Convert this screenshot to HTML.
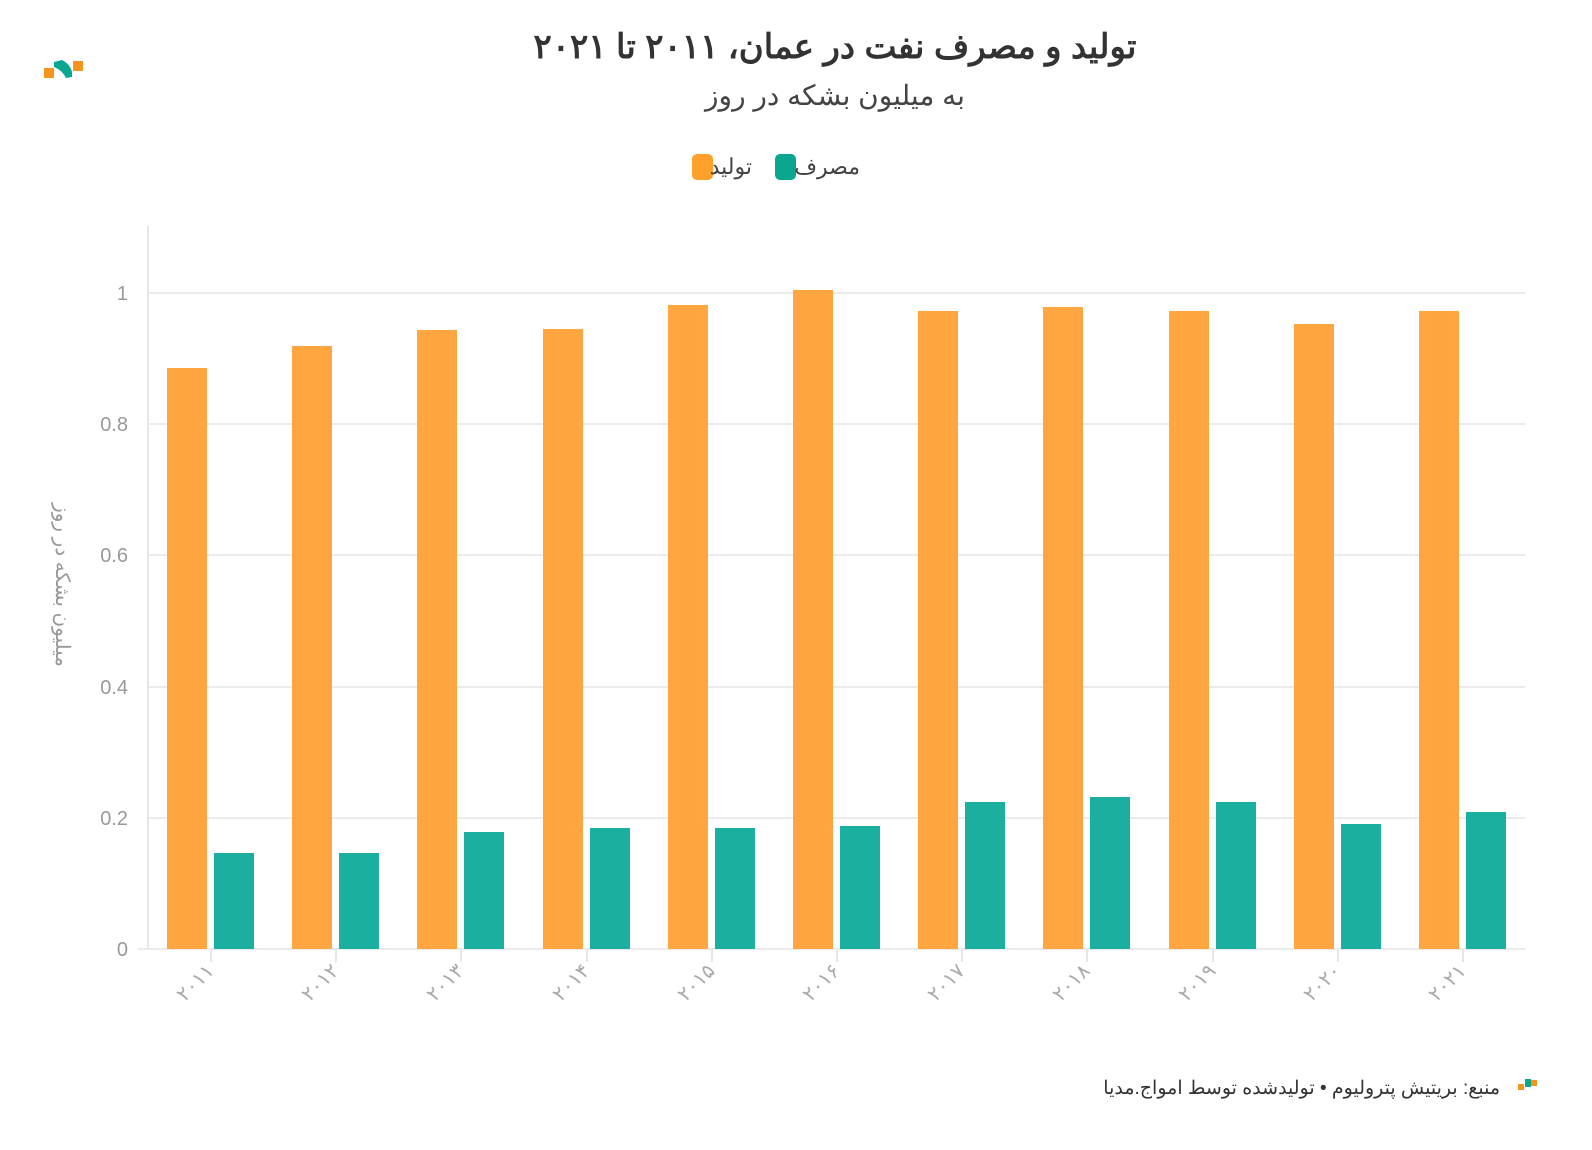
<!DOCTYPE html>
<html><head><meta charset="utf-8"><style>
html,body{margin:0;padding:0;background:#fff;overflow:hidden;width:1592px;height:1150px;}
svg{display:block;}
svg text{font-family:"Liberation Sans","Noto Sans CJK SC",sans-serif;}
</style></head><body>
<svg width="1592" height="1150" viewBox="0 0 1592 1150" xmlns="http://www.w3.org/2000/svg">
<rect width="1592" height="1150" fill="#fff"/>
<rect x="44" y="68" width="10" height="10" fill="#f7941d"/>
<path d="M54 62 L62 60 Q70 64 72 72 L72 77 L66 78 Q62 70 54 67 Z" fill="#0ba690"/>
<rect x="73" y="61" width="10" height="10" fill="#f7941d"/>
<text x="835" y="58" text-anchor="middle" font-size="34" font-weight="bold" fill="#333" direction="rtl">تولید و مصرف نفت در عمان، ۲۰۱۱ تا ۲۰۲۱</text>
<text x="835" y="105" text-anchor="middle" font-size="28" fill="#444" direction="rtl">به میلیون بشکه در روز</text>
<rect x="692" y="154" width="21" height="26" rx="5" fill="#ffa02a"/>
<text x="752" y="174" text-anchor="end" font-size="22" fill="#444">تولید</text>
<rect x="775" y="154" width="21" height="26" rx="5" fill="#0ba690"/>
<text x="860" y="174" text-anchor="end" font-size="22" fill="#444">مصرف</text>
<line x1="148" y1="226" x2="148" y2="950" stroke="#e6e6e6" stroke-width="2"/>
<g stroke="#ebebeb" stroke-width="2">
<line x1="148" y1="293" x2="1525" y2="293"/>
<line x1="148" y1="424" x2="1525" y2="424"/>
<line x1="148" y1="555" x2="1525" y2="555"/>
<line x1="148" y1="687" x2="1525" y2="687"/>
<line x1="148" y1="818" x2="1525" y2="818"/>
<line x1="138" y1="949" x2="1525" y2="949"/>
</g>
<g font-size="20" fill="#999" text-anchor="end">
<text x="128" y="300">1</text>
<text x="128" y="431">0.8</text>
<text x="128" y="562">0.6</text>
<text x="128" y="694">0.4</text>
<text x="128" y="825">0.2</text>
<text x="128" y="956">0</text>
</g>
<text transform="translate(56,585) rotate(90)" text-anchor="middle" font-size="20" fill="#999">میلیون بشکه در روز</text>
<g fill="#ffa640">
<rect x="167" y="368" width="40" height="581"/>
<rect x="292" y="346" width="40" height="603"/>
<rect x="417" y="330" width="40" height="619"/>
<rect x="543" y="329" width="40" height="620"/>
<rect x="668" y="305" width="40" height="644"/>
<rect x="793" y="290" width="40" height="659"/>
<rect x="918" y="311" width="40" height="638"/>
<rect x="1043" y="307" width="40" height="642"/>
<rect x="1169" y="311" width="40" height="638"/>
<rect x="1294" y="324" width="40" height="625"/>
<rect x="1419" y="311" width="40" height="638"/>
</g>
<g fill="#1aaf9e">
<rect x="214" y="853" width="40" height="96"/>
<rect x="339" y="853" width="40" height="96"/>
<rect x="464" y="832" width="40" height="117"/>
<rect x="590" y="828" width="40" height="121"/>
<rect x="715" y="828" width="40" height="121"/>
<rect x="840" y="826" width="40" height="123"/>
<rect x="965" y="802" width="40" height="147"/>
<rect x="1090" y="797" width="40" height="152"/>
<rect x="1216" y="802" width="40" height="147"/>
<rect x="1341" y="824" width="40" height="125"/>
<rect x="1466" y="812" width="40" height="137"/>
</g>
<g stroke="#e6e6e6" stroke-width="2">
<line x1="211" y1="950" x2="211" y2="962"/><line x1="336" y1="950" x2="336" y2="962"/>
<line x1="461" y1="950" x2="461" y2="962"/><line x1="587" y1="950" x2="587" y2="962"/>
<line x1="712" y1="950" x2="712" y2="962"/><line x1="837" y1="950" x2="837" y2="962"/>
<line x1="962" y1="950" x2="962" y2="962"/><line x1="1087" y1="950" x2="1087" y2="962"/>
<line x1="1213" y1="950" x2="1213" y2="962"/><line x1="1338" y1="950" x2="1338" y2="962"/>
<line x1="1463" y1="950" x2="1463" y2="962"/>
</g>
<g font-size="20" fill="#aaa" text-anchor="end">
<text transform="translate(215,972) rotate(-45)">۲۰۱۱</text>
<text transform="translate(340,972) rotate(-45)">۲۰۱۲</text>
<text transform="translate(465,972) rotate(-45)">۲۰۱۳</text>
<text transform="translate(591,972) rotate(-45)">۲۰۱۴</text>
<text transform="translate(716,972) rotate(-45)">۲۰۱۵</text>
<text transform="translate(841,972) rotate(-45)">۲۰۱۶</text>
<text transform="translate(966,972) rotate(-45)">۲۰۱۷</text>
<text transform="translate(1091,972) rotate(-45)">۲۰۱۸</text>
<text transform="translate(1217,972) rotate(-45)">۲۰۱۹</text>
<text transform="translate(1342,972) rotate(-45)">۲۰۲۰</text>
<text transform="translate(1467,972) rotate(-45)">۲۰۲۱</text>
</g>
<text x="1500" y="1094" text-anchor="end" font-size="19" fill="#333">منبع: بریتیش پترولیوم • تولیدشده توسط امواج.مدیا</text>
<rect x="1518" y="1084" width="6" height="6" fill="#f7941d"/>
<rect x="1525" y="1079" width="6" height="8" fill="#0ba690"/>
<rect x="1531" y="1080" width="6" height="6" fill="#f7941d"/>
</svg>
</body></html>
